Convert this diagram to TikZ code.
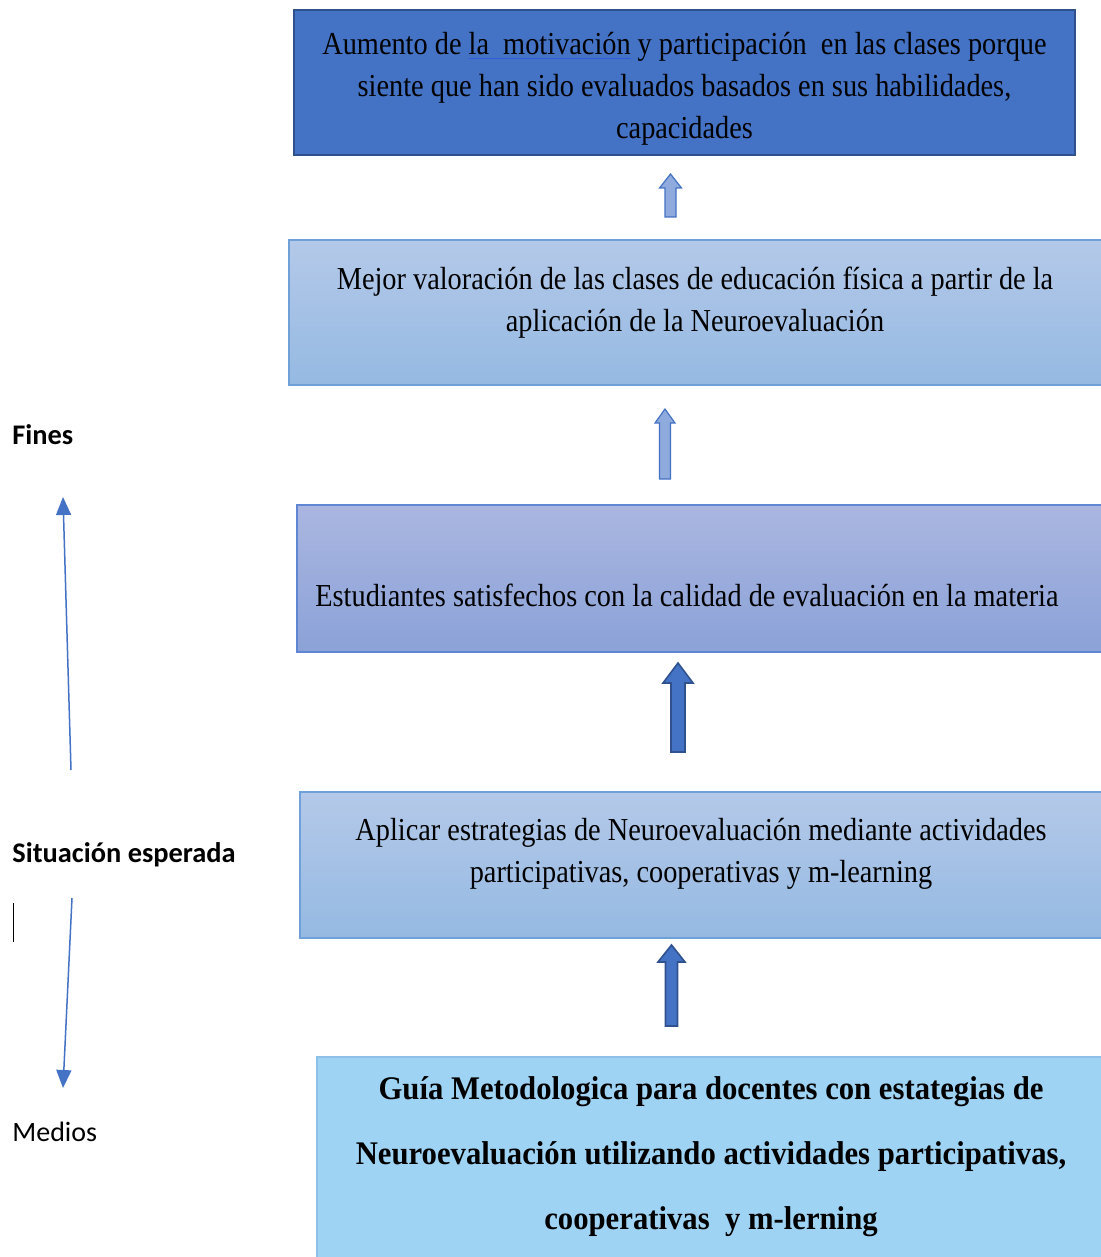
\documentclass[tikz,border=0pt]{standalone}
\usepackage{fontspec}
\usetikzlibrary{arrows.meta}
\setmainfont{Liberation Serif}
\newfontfamily\boxfont[FakeStretch=0.885]{Liberation Serif}
\newfontfamily\boxboldfont[FakeStretch=0.93]{Liberation Serif Bold}
\newfontfamily\labelfont{Carlito}
\definecolor{darkblue}{HTML}{4472C4}
\definecolor{darkborder}{HTML}{2F528F}
\definecolor{lightarrow}{HTML}{8FAADC}
\definecolor{ulblue}{HTML}{2E5FD8}
\definecolor{lbtop}{HTML}{B4C9E9}
\definecolor{lbbot}{HTML}{95B9E2}
\definecolor{lbborder}{HTML}{6FA0D8}
\definecolor{lavtop}{HTML}{AAB6E0}
\definecolor{lavbot}{HTML}{8BA2D8}
\definecolor{lavborder}{HTML}{5F86D2}
\definecolor{skyfill}{HTML}{9ED3F3}
\definecolor{skyborder}{HTML}{8FC0E8}
\newcommand{\blockarrow}[7]{%
  \filldraw[#7] (#1,#2) -- (#1+#5,#3) -- (#1+#6,#3) -- (#1+#6,#4) -- (#1-#6,#4) -- (#1-#6,#3) -- (#1-#5,#3) -- cycle;}
\begin{document}
\begin{tikzpicture}[x=0.5pt,y=-0.5pt,
  boxbase/.style={anchor=north west, inner sep=0pt, outer sep=0pt},
  topbox/.style={boxbase, fill=darkblue, draw=darkborder, line width=1.3pt},
  lightbox/.style={boxbase, top color=lbtop, bottom color=lbbot, draw=lbborder, line width=0.8pt},
  lavbox/.style={boxbase, top color=lavtop, bottom color=lavbot, draw=lavborder, line width=0.8pt},
  skybox/.style={boxbase, fill=skyfill, draw=skyborder, line width=0.8pt},
  boxtext/.style={anchor=base, align=center, inner sep=0pt, font=\boxfont\fontsize{16pt}{21pt}\selectfont},
  boldtext/.style={anchor=base, align=center, inner sep=0pt, font=\boxboldfont\fontsize{16.5pt}{32.5pt}\selectfont},
  sidelabel/.style={anchor=base west, inner sep=0pt, font=\labelfont\fontsize{14pt}{16pt}\selectfont},
  lightarr/.style={fill=lightarrow, draw=darkblue, line width=0.6pt, line join=miter},
  darkarr/.style={fill=darkblue, draw=darkborder, line width=0.8pt, line join=miter},
  thinarrow/.style={draw=darkblue, line width=0.75pt, -{Triangle[width=7.5pt,length=9pt]}}
]
\clip (0,0) rectangle (1101,1257);
\fill[white] (0,0) rectangle (1101,1257);

% boxes
\node[topbox, minimum width=390.5pt, minimum height=72.5pt] (b1) at (294,10) {};
\node[lightbox, minimum width=410pt, minimum height=72.5pt] (b2) at (289,240) {};
\node[lavbox, minimum width=406pt, minimum height=73.5pt] (b3) at (297,505) {};
\node[lightbox, minimum width=404pt, minimum height=73pt] (b4) at (300,792) {};
\node[skybox, minimum width=400pt, minimum height=110pt] (b5) at (317,1057) {};

% box texts (base anchor = last line baseline)
\node[boxtext] (t1) at (684.5,139) {Aumento de {\color{ulblue}\underline{\textcolor{black}{la\ \ motivación}}} y participación\ \ en las clases porque\\ siente que han sido evaluados basados en sus habilidades,\\ capacidades};
\node[boxtext] (t2) at (695,331) {Mejor valoración de las clases de educación física a partir de la\\ aplicación de la Neuroevaluación};
\node[boxtext, anchor=base west] (t3) at (315,606) {Estudiantes satisfechos con la calidad de evaluación en la materia};
\node[boxtext] (t4) at (701,882) {Aplicar estrategias de Neuroevaluación mediante actividades\\ participativas, cooperativas y m-learning};
\node[boldtext] (t5) at (711,1229) {Guía Metodologica para docentes con estategias de\\ Neuroevaluación utilizando actividades participativas,\\ cooperativas\ \ y m-lerning};

% block arrows
\blockarrow{670.5}{174}{188}{217}{11}{5.5}{lightarr}
\blockarrow{665}{409}{423}{479}{10}{5.5}{lightarr}
\blockarrow{678}{663}{683}{752}{15}{7}{darkarr}
\blockarrow{671.5}{945}{962}{1026}{13.5}{6}{darkarr}

% side labels
\node[sidelabel, font=\labelfont\bfseries\fontsize{14.2pt}{16pt}\selectfont] (fines) at (12,444) {Fines};
\node[sidelabel, font=\labelfont\bfseries\fontsize{14.2pt}{16pt}\selectfont] (sit) at (12,862) {Situación esperada};
\node[sidelabel] (medios) at (12,1141) {Medios};

\coordinate (up0) at (71,770);
\coordinate (up1) at (63,497);
\draw[thinarrow] (up0) -- (up1);
\coordinate (dn0) at (72,898);
\coordinate (dn1) at (63,1088);
\draw[thinarrow] (dn0) -- (dn1);

\coordinate (cur0) at (13.5,903);
\coordinate (cur1) at (13.5,942);
\draw[black, line width=0.8pt] (cur0) -- (cur1);
\end{tikzpicture}
\end{document}
